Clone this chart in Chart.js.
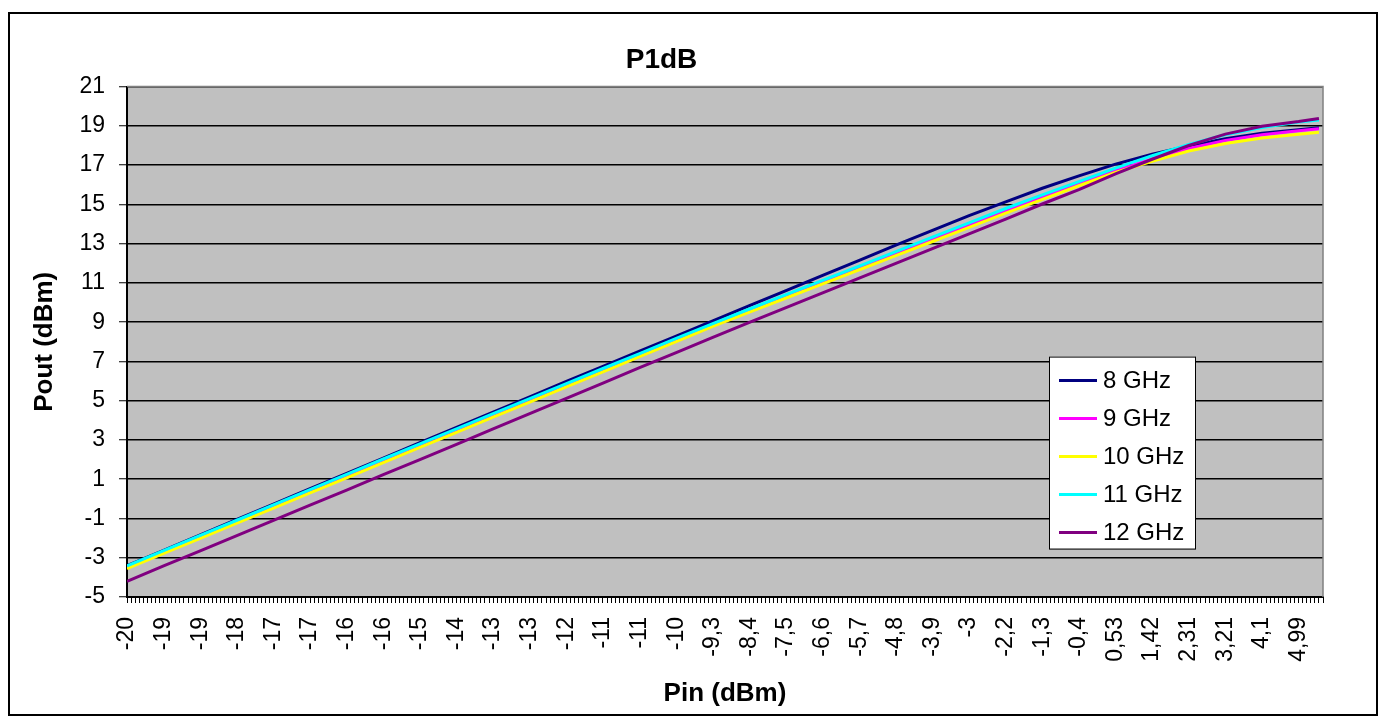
<!DOCTYPE html>
<html>
<head>
<meta charset="utf-8">
<title>P1dB</title>
<script src="https://cdn.jsdelivr.net/npm/chart.js@4.4.1/dist/chart.umd.min.js"></script>
<style>
  html, body { margin: 0; padding: 0; background: #fff; }
  #wrap { position: relative; width: 1386px; height: 724px; }
</style>
</head>
<body>
<div id="wrap"><canvas id="myChart"></canvas></div>
<script>
// Pin axis: one label every 9 categories
const tickLabels = ['-20', '-19', '-19', '-18', '-17', '-17', '-16', '-16', '-15', '-14', '-13',
    '-13', '-12', '-11', '-11', '-10', '-9,3', '-8,4', '-7,5', '-6,6', '-5,7', '-4,8', '-3,9',
    '-3', '-2,2', '-1,3', '-0,4', '0,53', '1,42', '2,31', '3,21', '4,1', '4,99'];
const labelEvery = 9;
const categoryCount = 294;

const seriesNames = ['8 GHz', '9 GHz', '10 GHz', '11 GHz', '12 GHz'];
const seriesColors = ['#000080', '#FF00FF', '#FFFF00', '#00FFFF', '#800080'];

// Pout (dBm) at each labelled category, last value = end of sweep
const pout8 = [-3.40, -2.62, -1.83, -1.05, -0.27, 0.52, 1.30, 2.08, 2.86, 3.64, 4.42, 5.20, 5.98,
    6.75, 7.52, 8.29, 9.06, 9.84, 10.61, 11.38, 12.15, 12.92, 13.68, 14.43, 15.13, 15.82, 16.45,
    17.05, 17.55, 17.98, 18.35, 18.62, 18.80, 18.90];
const pout9 = [-3.50, -2.73, -1.96, -1.19, -0.42, 0.35, 1.11, 1.88, 2.65, 3.42, 4.19, 4.96, 5.73,
    6.50, 7.27, 8.04, 8.81, 9.55, 10.28, 11.01, 11.74, 12.47, 13.20, 13.93, 14.66, 15.37, 16.05,
    16.72, 17.30, 17.85, 18.25, 18.55, 18.75, 18.85];
const pout10 = [-3.55, -2.78, -2.01, -1.24, -0.47, 0.30, 1.07, 1.85, 2.62, 3.39, 4.16, 4.93, 5.70,
    6.47, 7.24, 8.01, 8.78, 9.51, 10.23, 10.95, 11.67, 12.39, 13.11, 13.83, 14.56, 15.26, 15.95,
    16.63, 17.20, 17.72, 18.10, 18.38, 18.57, 18.67];
const pout11 = [-3.42, -2.64, -1.86, -1.09, -0.31, 0.47, 1.25, 2.03, 2.80, 3.57, 4.34, 5.10, 5.87,
    6.64, 7.40, 8.17, 8.93, 9.67, 10.40, 11.13, 11.86, 12.59, 13.33, 14.06, 14.79, 15.48, 16.16,
    16.85, 17.48, 18.05, 18.55, 18.92, 19.20, 19.30];
const pout12 = [-4.20, -3.42, -2.65, -1.87, -1.10, -0.32, 0.45, 1.23, 2.00, 2.78, 3.56, 4.34, 5.12,
    5.90, 6.68, 7.45, 8.23, 8.99, 9.74, 10.49, 11.24, 11.99, 12.75, 13.50, 14.25, 15.02, 15.75,
    16.55, 17.30, 18.00, 18.58, 18.98, 19.22, 19.38];

const FONT = 'Arial, "Liberation Sans", sans-serif';
Chart.defaults.font.family = FONT;
Chart.defaults.color = '#000';

// x position of each value: its category index
function toPoints(values) {
    return values.map((v, i) => ({
        x: i < tickLabels.length ? i * labelEvery : categoryCount - 1,
        y: v
    }));
}

// grey plot area, grey top/right edge, outer frame
const plotFrame = {
    id: 'plotFrame',
    beforeDraw(chart) {
        const { ctx, chartArea: a } = chart;
        ctx.save();
        ctx.fillStyle = '#C0C0C0';
        ctx.fillRect(a.left, a.top, a.right - a.left, a.bottom - a.top);
        ctx.restore();
    },
    beforeDatasetsDraw(chart) {
        const { ctx, chartArea: a } = chart;
        ctx.save();
        ctx.strokeStyle = '#808080';
        ctx.lineWidth = 1.5;
        ctx.beginPath();
        ctx.moveTo(a.left, a.top);
        ctx.lineTo(a.right, a.top);
        ctx.lineTo(a.right, a.bottom);
        ctx.stroke();
        ctx.restore();
    },
    afterDraw(chart) {
        const ctx = chart.ctx;
        ctx.save();
        ctx.strokeStyle = '#000';
        ctx.lineWidth = 2;
        ctx.strokeRect(9, 13, 1368, 702);
        ctx.restore();
    }
};

// legend box inside the plot, like the Excel one
const boxLegend = {
    id: 'boxLegend',
    afterDraw(chart) {
        const { ctx, chartArea } = chart;
        const left = chartArea.right - 274;
        const top = chartArea.top + 270;
        const w = 146, h = 192, rowH = 38;
        ctx.save();
        ctx.fillStyle = '#fff';
        ctx.fillRect(left, top, w, h);
        ctx.strokeStyle = '#000';
        ctx.lineWidth = 1;
        ctx.strokeRect(left + 0.5, top + 0.5, w, h);
        ctx.font = '24px ' + FONT;
        ctx.textBaseline = 'middle';
        seriesNames.forEach((name, i) => {
            const y = top + 24 + i * rowH;
            ctx.strokeStyle = seriesColors[i];
            ctx.lineWidth = 3;
            ctx.beginPath();
            ctx.moveTo(left + 10, y);
            ctx.lineTo(left + 48, y);
            ctx.stroke();
            ctx.fillStyle = '#000';
            ctx.fillText(name, left + 54, y + 1);
        });
        ctx.restore();
    }
};

const allSeries = [pout8, pout9, pout10, pout11, pout12];

const ctx = document.getElementById('myChart').getContext('2d');
const myChart = new Chart(ctx, {
    type: 'line',
    data: {
        datasets: allSeries.map((values, i) => ({
            label: seriesNames[i],
            data: toPoints(values),
            borderColor: seriesColors[i],
            backgroundColor: seriesColors[i],
            borderWidth: 3,
            pointRadius: 0,
            tension: 0,
            order: allSeries.length - i // later series on top
        }))
    },
    options: {
        responsive: true,
        maintainAspectRatio: false,
        animation: false,
        layout: { padding: { left: 0, right: 63, top: 0, bottom: 0 } },
        plugins: {
            legend: { display: false },
            tooltip: { enabled: false },
            title: {
                display: true,
                text: 'P1dB',
                color: '#000',
                font: { size: 28, weight: 'bold' },
                padding: { top: 43, bottom: 10 }
            }
        },
        scales: {
            x: {
                type: 'linear',
                min: 0,
                max: categoryCount,
                afterFit(scale) { scale.height = 127; },
                grid: {
                    drawOnChartArea: false,
                    drawTicks: true,
                    tickLength: 6,
                    tickColor: '#000',
                    tickWidth: 1
                },
                border: { color: '#000', width: 2 },
                ticks: {
                    stepSize: 1,
                    autoSkip: false,
                    maxRotation: 90,
                    minRotation: 90,
                    padding: 14,
                    font: { size: 23 },
                    callback(value) {
                        return value % labelEvery === 0 ? tickLabels[value / labelEvery] : '';
                    }
                },
                title: {
                    display: true,
                    text: 'Pin (dBm)',
                    font: { size: 26, weight: 'bold' },
                    padding: { bottom: 15 }
                }
            },
            y: {
                min: -5,
                max: 21,
                afterFit(scale) { scale.width = 127; },
                grid: {
                    color: '#000',
                    lineWidth: 1.5,
                    tickLength: 8,
                    tickColor: '#000',
                    tickWidth: 1
                },
                border: { color: '#000', width: 2 },
                ticks: { stepSize: 2, padding: 14, font: { size: 23 } },
                title: {
                    display: true,
                    text: 'Pout (dBm)',
                    font: { size: 26, weight: 'bold' },
                    padding: { top: 29 }
                }
            }
        }
    },
    plugins: [plotFrame, boxLegend]
});
</script>
</body>
</html>
